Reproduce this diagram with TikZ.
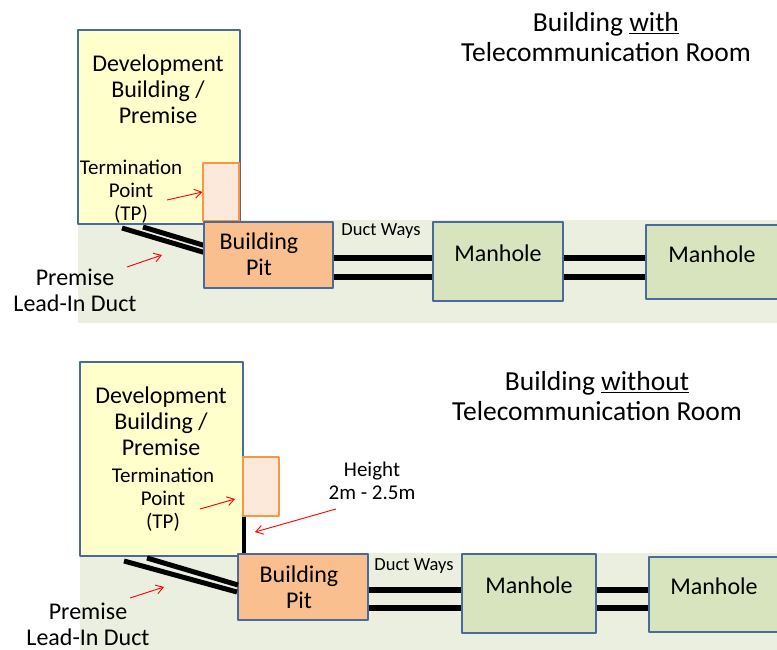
\documentclass[tikz,border=0pt]{standalone}
\usepackage{fontspec}
\setmainfont{Carlito}
\usetikzlibrary{arrows.meta}
\definecolor{bldfill}{HTML}{FFFFCC}
\definecolor{edgeblue}{HTML}{4A6A9C}
\definecolor{tpfill}{HTML}{FDE9DA}
\definecolor{tpedge}{HTML}{F79646}
\definecolor{pitfill}{HTML}{F9BF8E}
\definecolor{mhfill}{HTML}{D7E4BD}
\definecolor{groundfill}{HTML}{EBEFDF}
\begin{document}
\begin{tikzpicture}[x=1pt,y=-1pt, font=\fontsize{24}{26}\selectfont, line join=round]
	\tikzset{building/.style={draw=edgeblue, line width=1.2pt, fill=bldfill, inner sep=0pt},
		tpbox/.style={draw=tpedge, line width=1.2pt, fill=tpfill, inner sep=0pt},
		pitbox/.style={draw=edgeblue, line width=1.2pt, fill=pitfill, inner sep=0pt},
		manhole/.style={draw=edgeblue, line width=1.2pt, fill=mhfill, inner sep=0pt, text depth=16pt},
		bldtext/.style={align=center},
		tptext/.style={align=center, font=\fontsize{21}{23}\selectfont},
		smalltext/.style={font=\fontsize{18.5}{20}\selectfont},
		title/.style={align=center, font=\fontsize{27.5}{30}\selectfont},
		duct/.style={line width=6.5pt},
		leadin/.style={line width=5pt},
		redarrow/.style={red, line width=0.9pt, -{Straight Barb[length=7pt,width=9pt]}}}
	\useasboundingbox (0,0) rectangle (777,650);
	% building with telecommunication room
	\fill[groundfill] (78,220) rectangle (777,323);
	\node[title] (title1) at (606,37) {Building \underline{with}\\Telecommunication Room};
	\node[building, minimum width=162pt, minimum height=194pt] (dev1) at (159,127) {};
	\node[bldtext] (devtxt1) at (158,89) {Development\\Building /\\Premise};
	\node[tpbox, minimum width=36pt, minimum height=58pt] (tp1) at (221,192) {};
	\node[tptext] (tptxt1) at (131,192) {Termination\\Point\\(TP)};
	\draw[leadin] (122,228) -- (206,253);
	\draw[leadin] (143,227) -- (206,246);
	\node[pitbox, minimum width=129pt, minimum height=66pt] (pit1) at (268.5,255) {};
	\node[bldtext] (pittxt1) at (259,254) {Building\\Pit};
	\node[manhole, minimum width=130pt, minimum height=79pt] (mh1) at (498,261.5) {Manhole};
	\node[manhole, minimum width=132pt, minimum height=74pt] (mh2) at (712,262) {Manhole};
	\node[smalltext] (ductw1) at (381,231) {Duct Ways};
	\node[bldtext] (leadtxt1) at (75,290) {Premise\\Lead-In Duct};
	\foreach \y in {258,277}{
		\draw[duct] (pit1.east |- 0,\y) -- (mh1.west |- 0,\y);
		\draw[duct] (mh1.east |- 0,\y) -- (mh2.west |- 0,\y);
	}
	\coordinate (tparr1) at (167,200);
	\coordinate (leadarr1) at (127,267);
	\draw[redarrow] (tparr1) -- (tp1.west);
	\draw[redarrow] (leadarr1) -- (162,255);
	% building without telecommunication room
	\fill[groundfill] (80,553) rectangle (777,650);
	\node[title] (title2) at (597,396) {Building \underline{without}\\Telecommunication Room};
	\node[building, minimum width=163pt, minimum height=194pt] (dev2) at (161.5,459) {};
	\node[bldtext] (devtxt2) at (161,421) {Development\\Building /\\Premise};
	\node[tpbox, minimum width=36pt, minimum height=59pt] (tp2) at (261,486.5) {};
	\node[tptext] (tptxt2) at (163,500) {Termination\\Point\\(TP)};
	\node[pitbox, minimum width=130pt, minimum height=66pt] (pit2) at (303,587) {};
	\node[bldtext] (pittxt2) at (299,587) {Building\\Pit};
	\draw[line width=4pt] ([xshift=2pt]tp2.south west) -- ([xshift=2pt]tp2.south west |- pit2.north);
	\draw[leadin] (124,561) -- (237,592);
	\draw[leadin] (147,558) -- (238,585);
	\node[manhole, minimum width=134pt, minimum height=79pt] (mh3) at (529,593.5) {Manhole};
	\node[manhole, minimum width=130pt, minimum height=75pt] (mh4) at (714,594.5) {Manhole};
	\node[smalltext] (ductw2) at (414,566) {Duct Ways};
	\node[tptext] (heighttxt) at (372,481) {Height\\2m - 2.5m};
	\node[bldtext] (leadtxt2) at (88,624) {Premise\\Lead-In Duct};
	\foreach \y in {590,608}{
		\draw[duct] (pit2.east |- 0,\y) -- (mh3.west |- 0,\y);
		\draw[duct] (mh3.east |- 0,\y) -- (mh4.west |- 0,\y);
	}
	\coordinate (tparr2) at (200,509);
	\coordinate (heightarr) at (336,509);
	\coordinate (leadarr2) at (130,598);
	\draw[redarrow] (tparr2) -- (235,499);
	\draw[redarrow] (heightarr) -- (255,532);
	\draw[redarrow] (leadarr2) -- (164,587);
\end{tikzpicture}
\end{document}
